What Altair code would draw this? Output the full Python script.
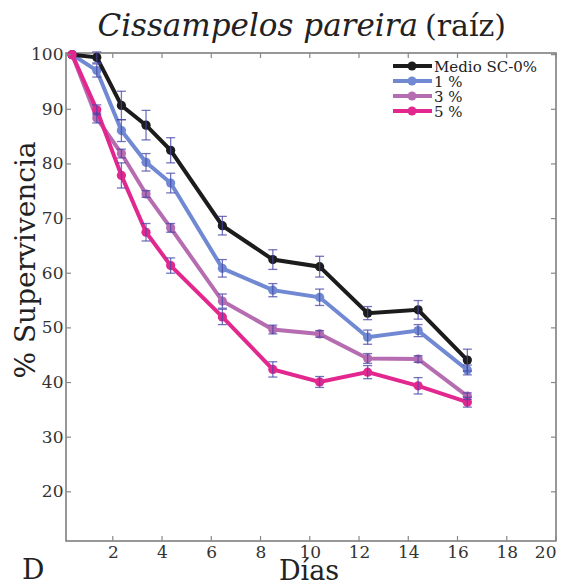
import altair as alt
import pandas as pd

# ---- data ----
days = [0.35, 1.35, 2.35, 3.35, 4.35, 6.45, 8.5, 10.4, 12.35, 14.4, 16.4]
series_names = ["Medio SC-0%", "1 %", "3 %", "5 %"]
series_colors = ["#1c1c1c", "#7089d2", "#b66cb1", "#e2288f"]

control_y = [100, 99.5, 90.7, 87.1, 82.5, 68.7, 62.5, 61.2, 52.7, 53.3, 44.1]
control_e = [0.0, 1.0, 2.6, 2.7, 2.3, 1.7, 1.8, 1.9, 1.2, 1.7, 2.0]
p1_y = [100, 97.1, 86.1, 80.3, 76.5, 60.9, 56.9, 55.6, 48.3, 49.5, 42.3]
p1_e = [0.0, 1.2, 2.0, 1.6, 1.8, 1.6, 1.2, 1.5, 1.3, 1.1, 0.9]
p3_y = [100, 88.4, 81.9, 74.5, 68.3, 54.9, 49.7, 48.9, 44.4, 44.3, 37.5]
p3_e = [0.0, 0.9, 0.8, 0.6, 0.8, 1.3, 0.8, 0.6, 0.9, 0.6, 0.6]
p5_y = [100, 89.9, 77.9, 67.5, 61.4, 52.0, 42.4, 40.1, 41.9, 39.4, 36.4]
p5_e = [0.0, 0.9, 2.3, 1.6, 1.4, 1.4, 1.4, 1.0, 1.2, 1.5, 0.9]

x_ticks = [2, 4, 6, 8, 10, 12, 14, 16, 18, 20]
y_ticks = [20, 30, 40, 50, 60, 70, 80, 90, 100]

W, H = 490, 488
FONT = "DejaVu Serif"

rows = []
for name, ys, es in zip(series_names, [control_y, p1_y, p3_y, p5_y],
                        [control_e, p1_e, p3_e, p5_e]):
    for d, v, e in zip(days, ys, es):
        rows.append({"serie": name, "dia": d, "sup": v, "lo": v - e, "hi": v + e})
df = pd.DataFrame(rows)

xs = alt.Scale(domain=[0.1, 20], nice=False, zero=False)
ys_ = alt.Scale(domain=[11, 100.3], nice=False, zero=False)

xax = alt.Axis(values=x_ticks, ticks=False, domain=False, grid=False,
               labelFont=FONT, labelFontSize=17, labelColor="#333333",
               labelPadding=3, title=None)
yax = alt.Axis(values=y_ticks, ticks=False, domain=False, grid=False,
               labelFont=FONT, labelFontSize=17, labelColor="#333333",
               labelPadding=3, title=None)

base = alt.Chart(df)

layers = []
layers.append(base.mark_point(opacity=0).encode(
    x=alt.X("dia:Q", scale=xs, axis=xax),
    y=alt.Y("sup:Q", scale=ys_, axis=yax)))

draw_order = ["1 %", "3 %", "Medio SC-0%", "5 %"]
for name in draw_order:
    col = series_colors[series_names.index(name)]
    sub = base.transform_filter(alt.datum.serie == name)
    layers.append(sub.mark_line(color=col, strokeWidth=4).encode(
        x=alt.X("dia:Q", scale=xs), y=alt.Y("sup:Q", scale=ys_)))
    layers.append(sub.mark_circle(color=col, size=85, opacity=1).encode(
        x=alt.X("dia:Q", scale=xs), y=alt.Y("sup:Q", scale=ys_)))

# error bars
eb = base.transform_filter(alt.datum.hi > alt.datum.lo)
err_col = "#4646a8"
layers.append(eb.mark_rule(color=err_col, strokeWidth=1.3, opacity=0.75).encode(
    x=alt.X("dia:Q", scale=xs), y=alt.Y("lo:Q", scale=ys_), y2="hi:Q"))
layers.append(eb.mark_rule(color=err_col, strokeWidth=1.3, opacity=0.75,
                           xOffset=-4.5, x2Offset=4.5).encode(
    x=alt.X("dia:Q", scale=xs), x2="dia:Q", y=alt.Y("hi:Q", scale=ys_)))
layers.append(eb.mark_rule(color=err_col, strokeWidth=1.3, opacity=0.75,
                           xOffset=-4.5, x2Offset=4.5).encode(
    x=alt.X("dia:Q", scale=xs), x2="dia:Q", y=alt.Y("lo:Q", scale=ys_)))

# inward ticks on all sides
tick_col = "#888888"
xt = alt.Chart(pd.DataFrame({"t": x_ticks}))
yt = alt.Chart(pd.DataFrame({"t": y_ticks}))
layers.append(xt.mark_rule(color=tick_col, strokeWidth=1.2).encode(
    x=alt.X("t:Q", scale=xs), y=alt.value(H), y2=alt.value(H - 5)))
layers.append(xt.mark_rule(color=tick_col, strokeWidth=1.2).encode(
    x=alt.X("t:Q", scale=xs), y=alt.value(0), y2=alt.value(5)))
layers.append(yt.mark_rule(color=tick_col, strokeWidth=1.2).encode(
    y=alt.Y("t:Q", scale=ys_), x=alt.value(0), x2=alt.value(5)))
layers.append(yt.mark_rule(color=tick_col, strokeWidth=1.2).encode(
    y=alt.Y("t:Q", scale=ys_), x=alt.value(W), x2=alt.value(W - 5)))

# legend (manual)
leg_y = [13, 28, 43, 58]
for name, col, ly in zip(series_names, series_colors, leg_y):
    ld = alt.Chart(pd.DataFrame({"t": [name]}))
    layers.append(ld.mark_rule(color=col, strokeWidth=4).encode(
        x=alt.value(327), x2=alt.value(366), y=alt.value(ly)))
    layers.append(ld.mark_circle(color=col, size=80, opacity=1).encode(
        x=alt.value(346), y=alt.value(ly)))
    layers.append(ld.mark_text(font=FONT, fontSize=15, color="#222222",
                               align="left", baseline="middle").encode(
        x=alt.value(368), y=alt.value(ly + 1), text="t:N"))

def txt(s, x, y, size, **kw):
    return alt.Chart(pd.DataFrame({"t": [s]})).mark_text(
        font=FONT, fontSize=size, color="#222222", **kw).encode(
        x=alt.value(x), y=alt.value(y), text="t:N")

layers.append(txt("Cissampelos pareira", 352, -17, 31, fontStyle="italic",
                  align="right", baseline="alphabetic"))
layers.append(txt("(raíz)", 359, -17, 30, align="left", baseline="alphabetic"))
layers.append(txt("% Supervivencia", -39, 207, 28, angle=270,
                  align="center", baseline="middle"))
layers.append(txt("Días", 243, 527, 27, align="center", baseline="alphabetic"))
layers.append(txt("D", -44, 526, 28, align="left", baseline="alphabetic"))

chart = alt.layer(*layers).properties(
    width=W, height=H,
    autosize=alt.AutoSizeParams(type="none"),
    padding={"left": 66, "top": 53, "right": 18, "bottom": 44},
    background="white",
).configure_view(stroke="#777777", strokeWidth=1.5)

chart.save("out.html", embed_options={"renderer": "svg", "actions": False})
